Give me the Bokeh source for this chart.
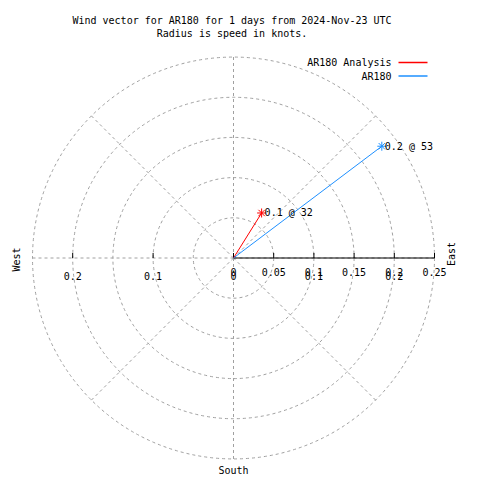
import numpy as np
from bokeh.plotting import figure
from bokeh.models import Range1d, ColumnDataSource
from bokeh.core.properties import value
from bokeh.embed import file_html
from bokeh.resources import INLINE

# ---- data ----
series_names = ["AR180 Analysis", "AR180"]
series_colors = ["#ff0000", "#1e90ff"]
speeds = [0.066, 0.231]          # knots
directions = [32, 53]            # degrees clockwise from north
ring_radii = [0.05, 0.1, 0.15, 0.2, 0.25]
spoke_angles = [0, 45, 90, 135, 180, 225, 270, 315]
r_ticks = [0, 0.05, 0.1, 0.15, 0.2, 0.25]
r_tick_labels = ["0", "0.05", "0.1", "0.15", "0.2", "0.25"]
dup_ticks = [0, 0.1, 0.2]
dup_labels = ["0", "0.1", "0.2"]
left_ticks = [0.1, 0.2]
left_labels = ["0.1", "0.2"]
title_lines = ["Wind vector for AR180 for 1 days from 2024-Nov-23 UTC",
               "Radius is speed in knots."]

# ---- geometry ----
W = H = 480
PPU = 804.0            # pixels per data unit
CX, CY = 233.0, 257.5  # centre in figure pixels (from top-left)
RMAX = max(ring_radii)

def px(xr):
    return (xr - CX) / PPU

def py(yr):
    return (CY - yr) / PPU

FONT = value("DejaVu Sans Mono")
FS = "10px"
GRID = "#a0a0a0"

p = figure(width=W, height=H, output_backend="svg", toolbar_location=None,
           x_axis_type=None, y_axis_type=None,
           x_range=Range1d(-CX / PPU, (W - CX) / PPU),
           y_range=Range1d(-(H - CY) / PPU, CY / PPU),
           min_border=0, outline_line_color=None)
p.grid.visible = False
p.background_fill_color = "white"
p.border_fill_color = "white"

# rings
p.circle(x=[0] * len(ring_radii), y=[0] * len(ring_radii), radius=ring_radii,
         fill_color=None, line_color=GRID, line_dash="3 3", line_width=1)

# spokes
ang = np.radians(spoke_angles)
p.segment(x0=[0] * len(ang), y0=[0] * len(ang),
          x1=list(RMAX * np.cos(ang)), y1=list(RMAX * np.sin(ang)),
          line_color=GRID, line_dash="3 3", line_width=1)

# right radial axis (solid)
p.segment(x0=[0], y0=[0], x1=[RMAX], y1=[0], line_color="black", line_width=1.2)
tk = 5 / PPU
p.segment(x0=r_ticks, y0=[0] * len(r_ticks), x1=r_ticks, y1=[tk] * len(r_ticks),
          line_color="black", line_width=1)
p.text(x=r_ticks, y=[py(271)] * len(r_ticks), text=r_tick_labels,
       text_font=FONT, text_font_size=FS, text_align="center", text_baseline="middle")
p.text(x=dup_ticks, y=[py(275)] * len(dup_ticks), text=dup_labels,
       text_font=FONT, text_font_size=FS, text_align="center", text_baseline="middle")

# left tick marks and labels
lt = [-t for t in left_ticks]
p.segment(x0=lt, y0=[0] * len(lt), x1=lt, y1=[tk] * len(lt),
          line_color="black", line_width=1)
p.text(x=lt, y=[py(275)] * len(lt), text=left_labels,
       text_font=FONT, text_font_size=FS, text_align="center", text_baseline="middle")

# compass labels
p.text(x=[px(451)], y=[py(253.5)], text=["East"], angle=np.pi / 2,
       text_font=FONT, text_font_size=FS, text_align="center", text_baseline="middle")
p.text(x=[px(16)], y=[py(259)], text=["West"], angle=np.pi / 2,
       text_font=FONT, text_font_size=FS, text_align="center", text_baseline="middle")
p.text(x=[0], y=[py(470)], text=["South"],
       text_font=FONT, text_font_size=FS, text_align="center", text_baseline="middle")

# vectors
rad = np.radians(directions)
vx = [s * np.sin(a) for s, a in zip(speeds, rad)]
vy = [s * np.cos(a) for s, a in zip(speeds, rad)]
src = ColumnDataSource(dict(x0=[0, 0], y0=[0, 0], x1=vx, y1=vy, color=series_colors,
                            label=[f"{s:.1f} @ {d}" for s, d in zip(speeds, directions)]))
p.segment(x0="x0", y0="y0", x1="x1", y1="y1", line_color="color", line_width=1, source=src)
p.scatter(x="x1", y="y1", marker="asterisk", size=9, line_color="color", line_width=1, source=src)
p.text(x="x1", y="y1", text="label", x_offset=3, text_font=FONT, text_font_size=FS,
       text_align="left", text_baseline="middle", source=src)

# legend (custom, text left of line)
leg_y = [py(62), py(75.5)]
p.text(x=[px(391)] * 2, y=leg_y, text=series_names, text_font=FONT, text_font_size=FS,
       text_align="right", text_baseline="middle")
p.segment(x0=[px(398)] * 2, y0=leg_y, x1=[px(427)] * 2, y1=leg_y,
          line_color=series_colors, line_width=1.5)

# title
p.text(x=[px(231.5)] * 2, y=[py(20), py(33)], text=title_lines, text_font=FONT,
       text_font_size=FS, text_align="center", text_baseline="middle")

open("out.html", "w").write(file_html(p, INLINE))
